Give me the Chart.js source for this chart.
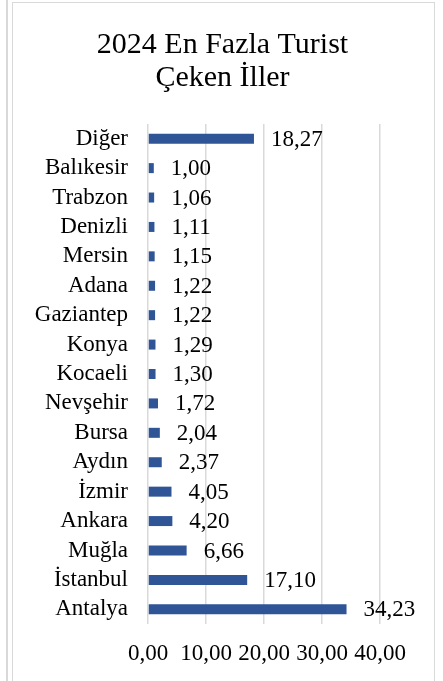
<!DOCTYPE html>
<html>
<head>
<meta charset="utf-8">
<script src="https://cdn.jsdelivr.net/npm/chart.js@4.4.0/dist/chart.umd.min.js"></script>
<style>
  html, body { margin: 0; padding: 0; background: #fff; }
  #wrap { position: relative; width: 443px; height: 681px; overflow: hidden; }
  #outer { position: absolute; left: 6px; top: 0; width: 2px; height: 681px; background: #d9d9d9; }
  #box { position: absolute; left: 12px; top: 2px; width: 423px; height: 700px; border: 1px solid #d9d9d9; box-sizing: border-box; }
  canvas { position: absolute; left: 0; top: 0; }
</style>
</head>
<body>
<div id="wrap">
  <div id="outer"></div>
  <div id="box"></div>
  <canvas id="myChart" width="443" height="681"></canvas>
</div>
<script>
const cities = [
    'Diğer',
    'Balıkesir',
    'Trabzon',
    'Denizli',
    'Mersin',
    'Adana',
    'Gaziantep',
    'Konya',
    'Kocaeli',
    'Nevşehir',
    'Bursa',
    'Aydın',
    'İzmir',
    'Ankara',
    'Muğla',
    'İstanbul',
    'Antalya',
]
const shares = [18.27, 1.00, 1.06, 1.11, 1.15, 1.22, 1.22, 1.29, 1.30, 1.72, 2.04, 2.37, 4.05, 4.20, 6.66, 17.10, 34.23]
const xTicks = [0, 10, 20, 30, 40]
const titleLines = ['2024 En Fazla Turist', 'Çeken İller']

const serif = "'Liberation Serif', 'Times New Roman', serif"
const fmt = v => Number(v).toFixed(2).replace('.', ',')

// title centred on the whole canvas, plus the value next to each bar
const extras = {
    id: 'extras',
    afterDraw(chart) {
        const ctx = chart.ctx
        ctx.save()
        ctx.fillStyle = '#000'
        ctx.font = '30px ' + serif
        ctx.textAlign = 'center'
        ctx.textBaseline = 'middle'
        titleLines.forEach((t, i) => ctx.fillText(t, chart.width / 2 + 1, 45 + i * 33))

        ctx.font = '23px ' + serif
        ctx.textAlign = 'left'
        chart.getDatasetMeta(0).data.forEach((bar, i) => {
            ctx.fillText(fmt(shares[i]), bar.x + 17, bar.y + 1)
        })
        ctx.restore()
    }
}

const data = {
    labels: cities,
    datasets: [{
      label: '',
      backgroundColor: '#2f5597',
      borderColor: '#2f5597',
      borderWidth: 0,
      data: shares,
      barPercentage: 0.5,
      categoryPercentage: 0.68,
    }]
}

const config = {
    type: 'bar',
    data: data,
    plugins: [extras],
    options: {
      indexAxis: 'y',
      responsive: false,
      animation: false,
      layout: { padding: { top: 124, right: 63, bottom: 0, left: 0 } },
      plugins: {
        legend: { display: false },
        tooltip: { enabled: false },
        title: { display: false }
      },
      scales: {
        x: {
          min: 0,
          max: 40,
          afterBuildTicks: axis => { axis.ticks = xTicks.map(v => ({ value: v })) },
          afterFit: axis => { axis.height = 57 },
          grid: { color: '#d9d9d9', lineWidth: 1.5, drawTicks: false },
          border: { display: false },
          ticks: {
            color: '#000',
            padding: 16,
            maxRotation: 0,
            autoSkip: false,
            font: { family: serif, size: 23 },
            callback: v => fmt(v),
          }
        },
        y: {
          afterFit: axis => { axis.width = 148 },
          grid: { display: false, drawTicks: false },
          border: { display: false },
          ticks: {
            color: '#000',
            padding: 20,
            autoSkip: false,
            font: { family: serif, size: 23 },
          }
        }
      }
    }
}

const myChart = new Chart(
    document.getElementById('myChart'),
    config
)
</script>
</body>
</html>
